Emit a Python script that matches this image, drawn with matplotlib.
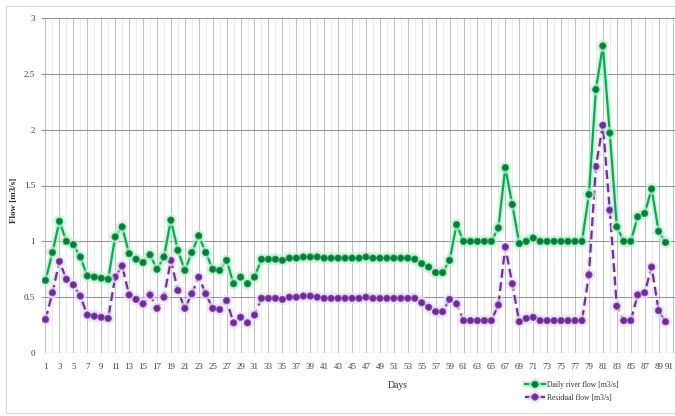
import matplotlib
matplotlib.use("Agg")
import matplotlib.pyplot as plt
import matplotlib.patheffects as pe
import matplotlib.transforms as mtrans
from matplotlib.patches import Rectangle
import numpy as np

plt.rcParams['font.family'] = ['Liberation Serif', 'DejaVu Serif']

# days 1..90, values
days = list(range(1, 91))
river_flow = [0.65, 0.90, 1.18, 1.00, 0.97, 0.86, 0.69, 0.68, 0.67, 0.66,
              1.04, 1.13, 0.89, 0.84, 0.81, 0.88, 0.75, 0.86, 1.19, 0.92,
              0.74, 0.90, 1.05, 0.90, 0.75, 0.74, 0.83, 0.62, 0.68, 0.62,
              0.68, 0.84, 0.84, 0.84, 0.83, 0.85, 0.85, 0.86, 0.86, 0.86,
              0.85, 0.85, 0.85, 0.85, 0.85, 0.85, 0.86, 0.85, 0.85, 0.85,
              0.85, 0.85, 0.85, 0.84, 0.80, 0.77, 0.72, 0.72, 0.83, 1.15,
              1.00, 1.00, 1.00, 1.00, 1.00, 1.12, 1.66, 1.33, 0.98, 1.00,
              1.03, 1.00, 1.00, 1.00, 1.00, 1.00, 1.00, 1.00, 1.42, 2.36,
              2.75, 1.97, 1.13, 1.00, 1.00, 1.22, 1.25, 1.47, 1.09, 0.99]
residual_flow = [0.30, 0.54, 0.82, 0.66, 0.61, 0.51, 0.34, 0.33, 0.32, 0.31,
                 0.68, 0.78, 0.52, 0.48, 0.44, 0.52, 0.40, 0.50, 0.83, 0.56,
                 0.40, 0.53, 0.68, 0.53, 0.40, 0.39, 0.47, 0.27, 0.32, 0.27,
                 0.34, 0.49, 0.49, 0.49, 0.48, 0.50, 0.50, 0.51, 0.51, 0.50,
                 0.49, 0.49, 0.49, 0.49, 0.49, 0.49, 0.50, 0.49, 0.49, 0.49,
                 0.49, 0.49, 0.49, 0.49, 0.45, 0.41, 0.37, 0.37, 0.48, 0.44,
                 0.29, 0.29, 0.29, 0.29, 0.29, 0.43, 0.95, 0.62, 0.28, 0.31,
                 0.32, 0.29, 0.29, 0.29, 0.29, 0.29, 0.29, 0.29, 0.70, 1.67,
                 2.04, 1.28, 0.42, 0.29, 0.29, 0.52, 0.54, 0.77, 0.38, 0.28]
x_ticks = list(range(1, 92, 2))
y_ticks = [0, 0.5, 1, 1.5, 2, 2.5, 3]
y_tick_labels = ['0', '0.5', '1', '1.5', '2', '2.5', '3']

W, H = 675, 416
fig = plt.figure(figsize=(W / 100, H / 100), dpi=100)
fig.patches.append(Rectangle((6 / W, 3 / H), 1, 1 - 9 / H, transform=fig.transFigure,
                             fill=False, edgecolor='#d9d9d9', linewidth=0.8))

# plot area: day 0.5 at x=42px, value 0 at y=353px, value 3 at y=18px
ax = fig.add_axes([42 / W, (H - 353) / H, 634 / W, 335 / H])
ax.set_xlim(0.5, 91.5)
ax.set_ylim(0, 3)
for s in ax.spines.values():
    s.set_visible(False)

# gridlines: odd days (labelled) a bit stronger than even days
for d in range(1, 92):
    ax.axvline(d, color='#bdbdbd' if d % 2 else '#ebebeb', linewidth=0.7, zorder=0)
for v in y_ticks:
    ax.axhline(v, color='#949494', linewidth=0.8, zorder=0)

glow_g = [pe.Stroke(linewidth=4.2, foreground='#c2efd0', alpha=0.7), pe.Normal()]
glow_p = [pe.Stroke(linewidth=4.2, foreground='#eadcf4', alpha=0.7), pe.Normal()]

ax.plot(days, river_flow, color='#00b050', linewidth=1.6, marker='o', markersize=4.6,
        markerfacecolor='#0c7a3c', markeredgecolor='#12a552', markeredgewidth=0.6,
        path_effects=glow_g, label='Daily river flow [m3/s]', zorder=3)
ax.plot(days, residual_flow, color='#7030a0', linewidth=1.6, linestyle=(0, (4, 2)),
        marker='o', markersize=4.6, markerfacecolor='#6a2c96', markeredgecolor='#8a50b8',
        markeredgewidth=0.6, path_effects=glow_p, label='Residual flow [m3/s]', zorder=2)

ax.set_xticks(x_ticks)
ax.set_xticklabels([str(t) for t in x_ticks])
ax.set_yticks(y_ticks)
ax.set_yticklabels(y_tick_labels)
ax.tick_params(axis='both', length=0, labelsize=6.5, colors='#404040')
ax.tick_params(axis='x', pad=7)
ax.tick_params(axis='y', pad=5)
# last label sits at the right edge of the picture; nudge it a few px left
last = ax.get_xticklabels()[-1]
last.set_transform(last.get_transform() + mtrans.ScaledTranslation(-3 / 100, 0, fig.dpi_scale_trans))

fig.text(398 / W, 1 - 385 / H, 'Days', ha='center', va='center', fontsize=7, color='#303030')
fig.text(14 / W, 1 - 200 / H, 'Flow [m3/s]', ha='center', va='center', rotation=90,
         fontsize=6.5, color='#303030', fontweight='bold')

leg = fig.legend(loc='upper left', bbox_to_anchor=(522 / W, 1 - 378 / H), frameon=False,
                 fontsize=5.5, handlelength=2.6, handletextpad=0.3, labelspacing=0.6,
                 borderaxespad=0)
for t in leg.get_texts():
    t.set_color('#303030')

fig.savefig('out.png', dpi=100)
